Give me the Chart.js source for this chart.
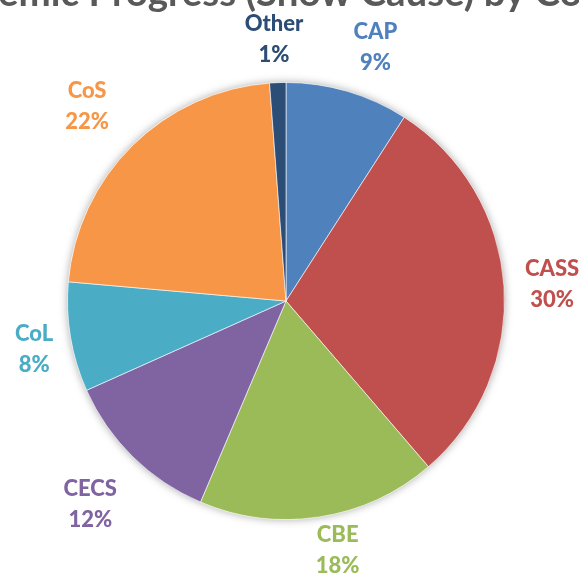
<!DOCTYPE html>
<html lang="en">
<head>
    <meta charset="UTF-8">
    <title>Academic Progress (Show Cause) by College</title>
    <script src="https://cdn.jsdelivr.net/npm/chart.js"></script>
    <style>
        body {
            margin: 0;
            background: #ffffff;
        }

        .chart-container {
            width: 579px;
            height: 574px;
            position: relative;
        }
    </style>
</head>
<body>

    <div class="chart-container">
        <canvas id="pieChart"></canvas>
    </div>

    <script>
        // Dados do gráfico
        const colleges = ['CAP', 'CASS', 'CBE', 'CECS', 'CoL', 'CoS', 'Other'];
        const shares = [9.1, 29.6, 17.7, 11.9, 8.1, 22.4, 1.2];
        const sliceColors = ['#4F81BD', '#C0504D', '#9BBB59', '#8064A2', '#4BACC6', '#F79646', '#2C4D75'];
        const chartTitle = 'Academic Progress (Show Cause) by College';

        const labelFont = '900 22px Lato, "Open Sans", sans-serif';
        const lineHeight = 31;
        // pequenos ajustes manuais dos rótulos (px)
        const labelNudge = {
            CAP: [14, 3], CASS: [6, 1], CBE: [11, -13], CECS: [-5, 9],
            CoL: [0, 6], CoS: [-10, -3], Other: [-2, 2]
        };

        // Título (cortado no topo, como na imagem original)
        const titlePlugin = {
            id: 'cutTitle',
            afterDraw(chart) {
                const ctx = chart.ctx;
                ctx.save();
                ctx.font = 'bold 30px Lato, "Open Sans", sans-serif';
                const base = ctx.measureText('emic Progress (Show Cause) by Co').width;
                const size = 30 * 584 / base;
                ctx.font = 'bold ' + size + 'px Lato, "Open Sans", sans-serif';
                ctx.fillStyle = '#595959';
                ctx.textAlign = 'left';
                ctx.textBaseline = 'alphabetic';
                const offset = ctx.measureText('Acad').width;
                ctx.fillText(chartTitle, -offset - 2, 6);
                ctx.restore();
            }
        };

        // Sombra suave atrás da pizza
        const shadowPlugin = {
            id: 'pieShadow',
            beforeDatasetsDraw(chart) {
                const arc = chart.getDatasetMeta(0).data[0];
                if (!arc) return;
                const ctx = chart.ctx;
                ctx.save();
                ctx.shadowColor = 'rgba(0, 0, 0, 0.35)';
                ctx.shadowBlur = 9;
                ctx.fillStyle = '#ffffff';
                ctx.beginPath();
                ctx.arc(arc.x, arc.y, arc.outerRadius, 0, Math.PI * 2);
                ctx.fill();
                ctx.restore();
            }
        };

        // Rótulos externos: nome + porcentagem
        const outsideLabels = {
            id: 'outsideLabels',
            afterDatasetsDraw(chart) {
                const ctx = chart.ctx;
                const meta = chart.getDatasetMeta(0);
                const total = shares.reduce((a, b) => a + b, 0);
                ctx.save();
                ctx.font = labelFont;
                ctx.textAlign = 'center';
                ctx.textBaseline = 'middle';
                meta.data.forEach((arc, i) => {
                    const mid = (arc.startAngle + arc.endAngle) / 2;
                    const dx = Math.cos(mid);
                    const dy = Math.sin(mid);
                    const pct = Math.round(shares[i] / total * 100) + '%';
                    const w = Math.max(ctx.measureText(colleges[i]).width, ctx.measureText(pct).width);
                    const h = lineHeight * 2;
                    const extent = Math.abs(dx) * w / 2 + Math.abs(dy) * h / 2;
                    const dist = arc.outerRadius + 13 + extent;
                    const nudge = labelNudge[colleges[i]] || [0, 0];
                    const cx = arc.x + dx * dist + nudge[0];
                    const cy = arc.y + dy * dist + nudge[1];
                    ctx.fillStyle = sliceColors[i];
                    ctx.fillText(colleges[i], cx, cy - lineHeight / 2);
                    ctx.fillText(pct, cx, cy + lineHeight / 2);
                });
                ctx.restore();
            }
        };

        const ctx = document.getElementById('pieChart').getContext('2d');
        const pieChart = new Chart(ctx, {
            type: 'pie',
            data: {
                labels: colleges,
                datasets: [{
                    data: shares,
                    backgroundColor: sliceColors,
                    borderColor: 'rgba(255, 255, 255, 0.6)',
                    borderWidth: 1
                }]
            },
            options: {
                responsive: true,
                maintainAspectRatio: false,
                animation: false,
                layout: {
                    padding: { left: 67, right: 74, top: 82, bottom: 54 }
                },
                plugins: {
                    legend: { display: false },
                    tooltip: { enabled: false }
                }
            },
            plugins: [shadowPlugin, outsideLabels, titlePlugin]
        });
    </script>

</body>
</html>
